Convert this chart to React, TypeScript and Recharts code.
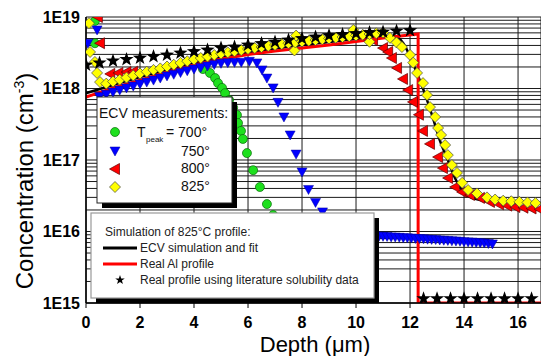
import React from "react";
import { ComposedChart, XAxis, YAxis, CartesianGrid, Scatter, Line } from "recharts";

const FONT = '"Liberation Sans", Arial, sans-serif';

// axis ticks / labels
const xTicks = [0, 2, 4, 6, 8, 10, 12, 14, 16];
const yDecades = [1e15, 1e16, 1e17, 1e18, 1e19];
const yLabels = ["1E15", "1E16", "1E17", "1E18", "1E19"];

// ECV measurements, [depth um, concentration cm-3]
const green700: [number, number][] = [
  [0.33, 8.8e18], [0.33, 4.3e18],
  [4.33, 1.87e18], [4.59, 1.65e18], [4.78, 1.4e18], [4.89, 1.19e18], [5.04, 1.02e18],
  [5.15, 8.6e17], [5.3, 6.9e17], [5.45, 5.4e17], [5.59, 4.26e17], [5.63, 3.29e17],
  [5.74, 2.55e17], [5.81, 1.97e17], [5.96, 1.25e17], [6.19, 7.2e16], [6.44, 4.19e16],
  [6.7, 2.42e16], [6.93, 1.7e16], [7.2, 1.2e16], [7.5, 9e15],
];

const blue750: [number, number][] = [
  [0.07, 4.3e18], [0.41, 6.6e18],
  [0.5, 7.7e17], [0.75, 8.3e17], [1, 8.9e17], [1.25, 9.5e17], [1.5, 1.02e18], [1.75, 1.08e18],
  [2, 1.16e18], [2.25, 1.23e18], [2.5, 1.31e18], [2.75, 1.4e18], [3, 1.5e18], [3.25, 1.58e18],
  [3.5, 1.67e18], [3.75, 1.77e18], [4, 1.87e18], [4.25, 1.97e18], [4.5, 2.07e18], [4.75, 2.17e18],
  [5, 2.25e18], [5.25, 2.3e18], [5.5, 2.32e18], [5.75, 2.33e18], [6.05, 2.4e18], [6.33, 2.28e18],
  [6.52, 1.82e18], [6.7, 1.4e18], [6.93, 1.02e18], [7.11, 6.4e17], [7.33, 4.0e17], [7.56, 2.24e17],
  [7.78, 1.21e17], [8.0, 6.8e16], [8.24, 3.87e16], [8.5, 2.55e16], [8.76, 1.88e16], [9.0, 1.35e16],
  [9.25, 1.05e16],
  [9.5, 9.0e15], [9.65, 8.95e15], [9.8, 8.9e15], [9.95, 8.9e15], [10.1, 8.85e15], [10.25, 8.8e15],
  [10.4, 8.75e15], [10.55, 8.7e15], [10.7, 8.7e15], [10.85, 8.6e15], [11.0, 8.55e15], [11.15, 8.5e15],
  [11.3, 8.4e15], [11.45, 8.35e15], [11.6, 8.3e15], [11.75, 8.2e15], [11.9, 8.15e15], [12.05, 8.1e15],
  [12.2, 8.0e15], [12.35, 7.95e15], [12.5, 7.9e15], [12.65, 7.8e15], [12.8, 7.75e15], [12.95, 7.7e15],
  [13.1, 7.6e15], [13.25, 7.55e15], [13.4, 7.5e15], [13.55, 7.4e15], [13.7, 7.35e15], [13.85, 7.3e15],
  [14.0, 7.2e15], [14.15, 7.15e15], [14.3, 7.1e15], [14.45, 7.0e15], [14.6, 6.95e15], [14.75, 6.9e15],
  [14.9, 6.8e15], [15.05, 6.7e15],
];

const red800: [number, number][] = [
  [0.44, 1.0e19], [0.52, 4.3e18],
  [0.9, 1.6e18], [1.2, 1.65e18], [1.5, 1.7e18], [1.75, 1.72e18],
  [10.2, 5.5e18], [10.63, 4.76e18],
  [11.0, 3.68e18], [11.19, 3.24e18], [11.33, 2.67e18], [11.52, 1.94e18], [11.74, 1.36e18],
  [11.93, 9.5e17], [12.11, 6.5e17], [12.33, 4.3e17], [12.48, 2.55e17], [12.74, 1.68e17],
  [13.04, 1.1e17], [13.22, 7.7e16], [13.41, 5.6e16], [13.67, 4.19e16], [13.93, 3.57e16],
  [14.22, 3.24e16], [14.59, 2.95e16], [14.96, 2.59e16], [15.3, 2.4e16], [15.6, 2.3e16],
  [15.9, 2.2e16], [16.2, 2.15e16], [16.5, 2.1e16], [16.8, 2.05e16],
];

const yellow825: [number, number][] = [
  [0.11, 8.2e18], [0.15, 3.24e18], [0.33, 2.35e18], [0.41, 1.65e18], [0.52, 1.23e18],
  [0.75, 1.17e18], [1, 1.25e18], [1.25, 1.33e18], [1.5, 1.42e18], [1.75, 1.52e18], [2, 1.62e18],
  [2.25, 1.72e18], [2.5, 1.82e18], [2.75, 1.91e18], [3, 2.03e18], [3.25, 2.15e18], [3.5, 2.28e18],
  [3.75, 2.41e18], [4, 2.55e18], [4.25, 2.67e18], [4.5, 2.8e18], [4.75, 2.94e18], [5, 3.09e18],
  [5.25, 3.2e18], [5.5, 3.31e18], [5.75, 3.44e18], [6, 3.57e18], [6.25, 3.68e18], [6.5, 3.8e18],
  [6.75, 3.93e18], [7, 4.06e18], [7.25, 4.18e18], [7.5, 4.3e18], [7.72, 3.4e18], [7.75, 4.41e18],
  [7.78, 5.5e18], [8, 4.54e18], [8.25, 4.65e18], [8.5, 4.76e18], [8.75, 4.88e18], [9, 5.0e18],
  [9.25, 5.12e18], [9.5, 5.25e18], [9.75, 5.38e18], [9.9, 6.6e18], [10, 5.51e18], [10.25, 5.65e18],
  [10.5, 4.5e18], [10.5, 5.78e18], [10.75, 5.92e18], [11, 6.07e18],
  [11.26, 5.1e18], [11.5, 4.4e18], [11.7, 3.8e18], [12.0, 2.95e18], [12.12, 2.3e18], [12.26, 1.65e18],
  [12.48, 1.19e18], [12.63, 8.1e17], [12.74, 5.5e17], [12.93, 4.0e17], [13.04, 2.8e17],
  [13.15, 2.24e17], [13.3, 1.62e17], [13.4, 1.17e17], [13.55, 8.5e16], [13.74, 6.6e16],
  [13.93, 4.8e16], [14.15, 3.8e16], [14.48, 3.4e16], [14.85, 3.0e16], [15.15, 2.8e16],
  [15.45, 2.7e16], [15.75, 2.65e16], [16.05, 2.6e16], [16.35, 2.55e16], [16.65, 2.5e16],
];

// simulation of 825C profile
const ecvFit: [number, number][] = [
  [0, 8.6e17], [1, 1.12e18], [2, 1.45e18], [3, 1.82e18], [4, 2.28e18], [5, 2.76e18], [6, 3.19e18],
  [7, 3.62e18], [8, 4.06e18], [9, 4.47e18], [10, 4.92e18], [11, 5.42e18], [11.4, 5.42e18],
  [11.75, 4.3e18], [12.1, 2.28e18], [12.5, 9.5e17], [12.85, 3.86e17], [13.1, 1.9e17], [13.4, 1.0e17],
  [13.7, 5.25e16], [14.1, 3.24e16], [14.6, 2.76e16], [15.5, 2.59e16], [16.85, 2.5e16],
];

const realAl: [number, number][] = [
  [0, 7.6e17], [1, 1.02e18], [2, 1.31e18], [3, 1.7e18], [4, 2.13e18], [5, 2.59e18], [6, 2.99e18],
  [7, 3.34e18], [8, 3.68e18], [9, 4.06e18], [10, 4.54e18], [11, 5.08e18], [12.3, 5.78e18],
  [12.3, 1e15], [16.85, 1e15],
];

const literature: [number, number][] = [
  [0, 2.13e18], [0.5, 2.28e18], [1, 2.43e18], [1.5, 2.55e18], [2, 2.67e18], [2.5, 2.8e18],
  [3, 2.94e18], [3.5, 3.14e18], [4, 3.29e18], [4.5, 3.45e18], [5, 3.68e18], [5.5, 3.8e18],
  [6, 4.06e18], [6.5, 4.26e18], [7, 4.47e18], [7.5, 4.76e18], [8, 5.0e18], [8.5, 5.25e18],
  [9, 5.51e18], [9.5, 5.69e18], [10, 5.88e18], [10.5, 6.07e18], [11, 6.17e18], [11.5, 6.37e18],
  [12, 6.47e18],
  [12.5, 1.15e15], [13, 1.15e15], [13.5, 1.15e15], [14, 1.15e15], [14.5, 1.15e15], [15, 1.15e15],
  [15.5, 1.15e15], [16, 1.15e15], [16.5, 1.15e15],
];

const toPts = (arr: [number, number][]) => arr.map(([x, y]) => ({ x, y }));

const yGridTicks: number[] = [];
for (let d = 0; d < 4; d++) for (let m = 1; m < 10; m++) yGridTicks.push(m * yDecades[d]);
yGridTicks.push(yDecades[4]);

// marker shapes
const Circ = ({ cx, cy }: any) => (
  <circle cx={cx} cy={cy} r={4.5} fill="#1ee01e" stroke="#0a6a0a" strokeWidth={0.7} />
);
const TriDown = ({ cx, cy }: any) => (
  <polygon points={`${cx - 5},${cy - 4} ${cx + 5},${cy - 4} ${cx},${cy + 5}`} fill="#0000ff" stroke="#0000a0" strokeWidth={0.5} />
);
const TriLeft = ({ cx, cy }: any) => (
  <polygon points={`${cx - 5.5},${cy} ${cx + 4.5},${cy - 5.5} ${cx + 4.5},${cy + 5.5}`} fill="#ff0000" stroke="#600000" strokeWidth={0.7} />
);
const Diamond = ({ cx, cy }: any) => (
  <polygon points={`${cx},${cy - 5.5} ${cx + 5.5},${cy} ${cx},${cy + 5.5} ${cx - 5.5},${cy}`} fill="#ffff00" stroke="#444" strokeWidth={0.7} />
);
const starPts = (cx: number, cy: number, ro: number, ri: number) => {
  const p: string[] = [];
  for (let i = 0; i < 10; i++) {
    const a = (-90 + i * 36) * (Math.PI / 180);
    const r = i % 2 ? ri : ro;
    p.push(`${cx + r * Math.cos(a)},${cy + r * Math.sin(a)}`);
  }
  return p.join(" ");
};
const Star = ({ cx, cy }: any) => <polygon points={starPts(cx, cy, 7.5, 3)} fill="#000" />;

const XTick = ({ x, payload }: any) => (
  <text x={x} y={328} textAnchor="middle" fontFamily={FONT} fontWeight="bold" fontSize={16} fill="#000">
    {payload.value}
  </text>
);
const YTick = ({ y, payload }: any) => {
  const i = yDecades.indexOf(payload.value);
  if (i < 0) return <g />;
  return (
    <text x={80} y={y + 5.5} textAnchor="end" fontFamily={FONT} fontWeight="bold" fontSize={16} fill="#000">
      {yLabels[i]}
    </text>
  );
};

export default function App() {
  return (
    <div style={{ position: "absolute", left: 0, top: 0, width: 541, height: 356, overflow: "hidden", background: "#fff" }}>
      <ComposedChart width={541} height={356} margin={{ top: 17, right: 0, bottom: 0, left: 0 }}>
        <CartesianGrid stroke="#1a1a1a" strokeWidth={1} />
        <XAxis
          dataKey="x"
          type="number"
          domain={[0, 16.85]}
          ticks={xTicks}
          height={53}
          allowDataOverflow
          tick={<XTick />}
          tickSize={5}
          tickLine={{ stroke: "#000" }}
          axisLine={{ stroke: "#000", strokeWidth: 1.5 }}
        />
        <YAxis
          dataKey="y"
          type="number"
          scale="log"
          domain={[1e15, 1e19]}
          ticks={yGridTicks}
          interval={0}
          width={86}
          allowDataOverflow
          tick={<YTick />}
          tickLine={false}
          axisLine={{ stroke: "#000", strokeWidth: 1.5 }}
        />
        <Scatter data={toPts(green700)} shape={Circ} isAnimationActive={false} />
        <Scatter data={toPts(blue750)} shape={TriDown} isAnimationActive={false} />
        <Scatter data={toPts(red800)} shape={TriLeft} isAnimationActive={false} />
        <Scatter data={toPts(yellow825)} shape={Diamond} isAnimationActive={false} />
        <Line data={toPts(ecvFit)} dataKey="y" type="monotone" stroke="#000" strokeWidth={2.5} dot={false} isAnimationActive={false} />
        <Line data={toPts(realAl)} dataKey="y" type="linear" stroke="#ff0000" strokeWidth={3} dot={false} isAnimationActive={false} />
        <Scatter data={toPts(literature)} shape={Star} isAnimationActive={false} />
      </ComposedChart>
      <svg width={541} height={356} style={{ position: "absolute", left: 0, top: 0, pointerEvents: "none" }} fontFamily={FONT}>
        {/* ECV measurements legend */}
        <rect x={102} y={102} width={135} height={106} fill="#000" />
        <rect x={97} y={97} width={135} height={106} fill="#fff" stroke="#222" strokeWidth={1} />
        <text x={99} y={118} fontSize={14} fill="#111">ECV measurements:</text>
        <Circ cx={115} cy={132} />
        <text x={137} y={137} fontSize={14} fill="#111">T</text>
        <text x={146} y={142} fontSize={8} fill="#111">peak</text>
        <text x={166} y={137} fontSize={14} fill="#111">= 700°</text>
        <TriDown cx={115} cy={151} />
        <text x={181} y={156} fontSize={14} fill="#111">750°</text>
        <TriLeft cx={115} cy={169} />
        <text x={181} y={173} fontSize={14} fill="#111">800°</text>
        <Diamond cx={115} cy={187} />
        <text x={181} y={191} fontSize={14} fill="#111">825°</text>

        {/* simulation legend */}
        <rect x={96} y={218} width={283} height={85} fill="#000" />
        <rect x={91} y={213} width={283} height={85} fill="#fff" stroke="#999" strokeWidth={1.2} />
        <text x={105} y={236} fontSize={12} fill="#222">Simulation of 825°C profile:</text>
        <line x1={103} x2={137} y1={248} y2={248} stroke="#000" strokeWidth={3} />
        <text x={140} y={252} fontSize={12} fill="#222">ECV simulation and fit</text>
        <line x1={103} x2={137} y1={264} y2={264} stroke="#ff0000" strokeWidth={3} />
        <text x={140} y={268} fontSize={12} fill="#222">Real Al profile</text>
        <polygon points={starPts(120, 280, 5, 2)} fill="#000" />
        <text x={140} y={284} fontSize={12} fill="#222">Real profile using literature solubility data</text>

        {/* axis titles */}
        <text x={315} y={352} fontSize={22} textAnchor="middle" fill="#000">Depth (μm)</text>
        <text x={33} y={181} fontSize={24} textAnchor="middle" fill="#000" transform="rotate(-90, 33, 181)">
          Concentration (cm<tspan dy={-9} fontSize={14}>-3</tspan><tspan dy={9}>)</tspan>
        </text>
      </svg>
    </div>
  );
}
